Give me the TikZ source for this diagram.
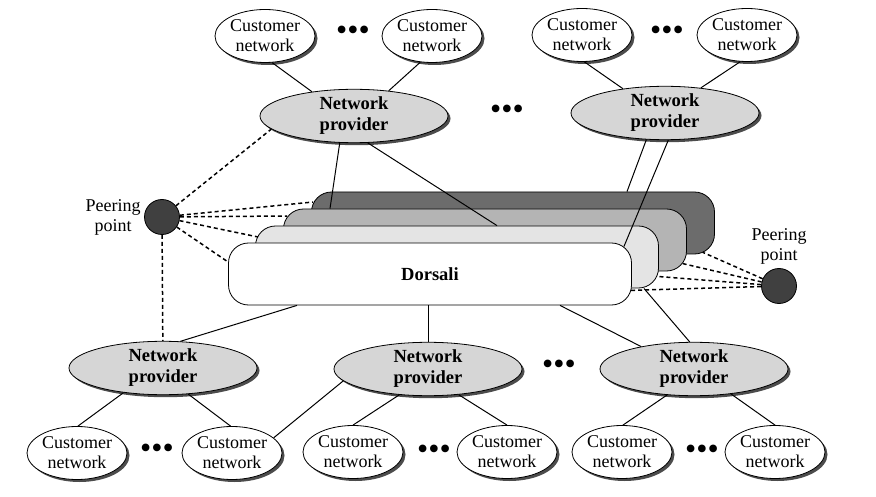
\documentclass[tikz,border=0pt]{standalone}
\usepackage{fontspec}
\setmainfont{Liberation Serif}
\usetikzlibrary{shapes.geometric,shadows}
\definecolor{provgray}{HTML}{D6D6D6}
\definecolor{peergray}{HTML}{404040}
\definecolor{bbdark}{HTML}{6C6C6C}
\definecolor{bbmid}{HTML}{B4B4B4}
\definecolor{bblight}{HTML}{E4E4E4}
\newcommand{\nfont}{\fontsize{18}{20}\selectfont}
\newcommand{\bfont}{\bfseries\fontsize{18.5}{21}\selectfont}
\newcommand{\dfont}{\fontsize{32}{32}\selectfont}
\tikzset{
  cust/.style={ellipse,draw,fill=white,line width=0.8pt,minimum width=100pt,minimum height=53pt,
    inner sep=0pt,align=center,font=\nfont,
    drop shadow={shadow xshift=2.5pt,shadow yshift=-2.5pt,fill=black!70,opacity=1}},
  prov/.style={cust,fill=provgray,minimum width=188pt,minimum height=52pt,font=\bfont},
  peer/.style={circle,draw,fill=peergray,line width=0.8pt,minimum size=35pt,inner sep=0pt},
  layer/.style={draw,rounded corners=20pt,line width=0.8pt,minimum width=403pt,minimum height=62pt,inner sep=0pt},
  link/.style={line width=1pt},
  peerlink/.style={line width=1.5pt,dash pattern=on 4pt off 3pt},
  more/.style={font=\dfont,inner sep=0pt}
}
\begin{document}
\begin{tikzpicture}[x=1pt,y=-1pt]
  \useasboundingbox (0,0) rectangle (876,497);
  \node[layer,fill=bbdark] (bb1) at (513,223) {};
  \node[layer,fill=bbmid] (bb2) at (485,240) {};
  \node[layer,fill=bblight] (bb3) at (457,257) {};
  \node[layer,fill=white,font=\bfont] (bb4) at (430,274) {Dorsali};

  \node[cust] (cn1) at (265,36) {Customer\\network};
  \node[more] (d1) at (353,33) {•••};
  \node[cust] (cn2) at (432,36) {Customer\\network};
  \node[prov] (np1) at (354,116) {Network\\provider};
  \node[more] (d2) at (507,112) {•••};
  \node[cust] (cn3) at (582,35) {Customer\\network};
  \node[more] (d3) at (667,33) {•••};
  \node[cust] (cn4) at (747,35) {Customer\\network};
  \node[prov] (np2) at (665,113) {Network\\provider};

  \node[peer,label={[align=center,font=\nfont]left:Peering\\point}] (pp1) at (162,217) {};
  \node[peer,label={[align=center,font=\nfont]above:Peering\\point}] (pp2) at (779,286) {};

  \node[prov] (np3) at (163,368) {Network\\provider};
  \node[cust] (cn5) at (77,453) {Customer\\network};
  \node[more] (d4) at (157,451) {•••};
  \node[cust] (cn6) at (232,453) {Customer\\network};
  \node[prov] (np4) at (428,369) {Network\\provider};
  \node[cust] (cn7) at (353,452) {Customer\\network};
  \node[more] (d5) at (434,452) {•••};
  \node[cust] (cn8) at (507,452) {Customer\\network};
  \node[more] (d6) at (559,367) {•••};
  \node[prov] (np5) at (694,369) {Network\\provider};
  \node[cust] (cn9) at (622,452) {Customer\\network};
  \node[more] (d7) at (702,452) {•••};
  \node[cust] (cn10) at (775,452) {Customer\\network};

  \draw[link] (cn1.-75) -- (np1.150);
  \draw[link] (cn2.-114) -- (np1.36);
  \draw[link] (cn3.-85) -- (np2.150);
  \draw[link] (cn4.-104) -- (np2.35);
  \draw[link] (np1.-118) -- ([xshift=-155pt]bb2.north);
  \draw[link] (np1.-63) -- ([xshift=40pt]bb3.north);
  \draw[link] (np2.-125) -- ([xshift=114pt]bb1.north);
  \draw[link] (np2.-83) -- ([shift={(-8pt,-4pt)}]bb4.north east);

  \draw[link] (np3.57) -- ([xshift=-133pt]bb4.south);
  \draw[link] (np4) -- (np4 |- bb4.south);
  \draw[link] (np5.157) -- ([xshift=130pt]bb4.south);
  \draw[link] (np5.99) -- ([xshift=-15pt]bb3.south east);
  \draw[link] (np3.-148) -- (cn5.88);
  \draw[link] (np3.-46) -- (cn6.93);
  \draw[link] (cn6.20) -- (np4.-172);
  \draw[link] (np4.-138) -- (cn7.90);
  \draw[link] (np4.-40) -- (cn8.90);
  \draw[link] (np5.-136) -- (cn9.88);
  \draw[link] (np5.-34) -- (cn10.90);

  \draw[peerlink] (pp1) -- (np1.-171);
  \draw[peerlink] (pp1) -- (np3);
  \draw[peerlink] (pp1) -- ([shift={(2pt,21pt)}]bb1.west);
  \draw[peerlink] (pp1) -- ([shift={(4pt,24pt)}]bb2.west);
  \draw[peerlink] (pp1) -- ([shift={(3pt,20pt)}]bb3.west);
  \draw[peerlink] (pp1) -- ([yshift=12pt]bb4.west);
  \draw[peerlink] (pp2) -- ([shift={(-12pt,2pt)}]bb1.south east);
  \draw[peerlink] (pp2) -- ([shift={(-5pt,8pt)}]bb2.south east);
  \draw[peerlink] (pp2) -- ([shift={(-2pt,12pt)}]bb3.south east);
  \draw[peerlink] (pp2) -- ([shift={(-2pt,15pt)}]bb4.south east);
\end{tikzpicture}
\end{document}
